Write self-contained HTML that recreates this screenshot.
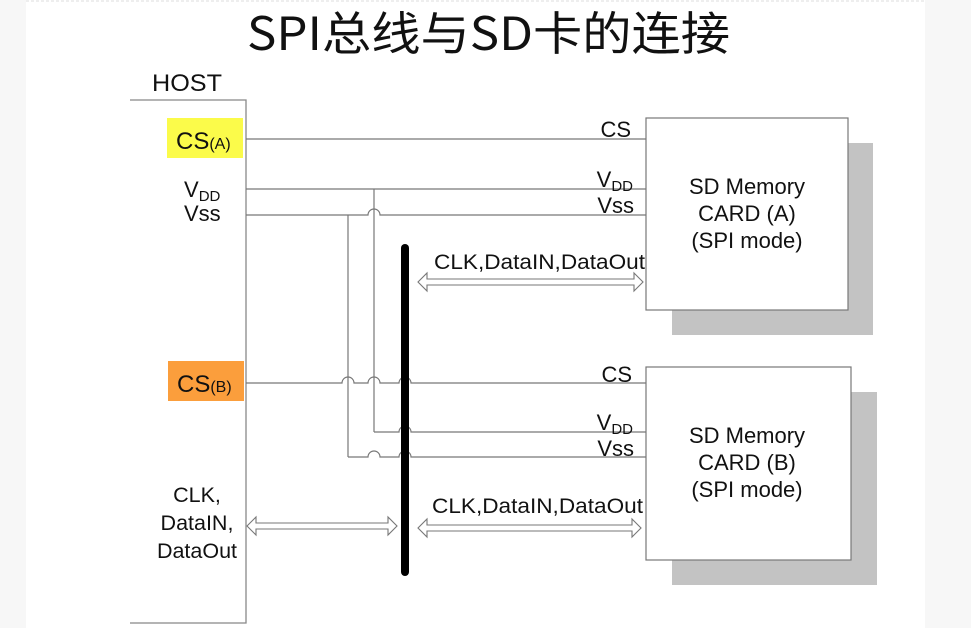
<!DOCTYPE html>
<html><head><meta charset="utf-8"><style>
html,body{margin:0;padding:0;background:#fff}
svg{display:block}
text{font-family:"Liberation Sans",Arial,sans-serif;fill:#111}
</style></head><body>
<svg width="971" height="628" viewBox="0 0 971 628" xmlns="http://www.w3.org/2000/svg">
<rect x="0" y="0" width="971" height="628" fill="#fff"/>
<rect x="0" y="0" width="26" height="628" fill="#f7f7f7"/>
<rect x="925" y="0" width="46" height="628" fill="#f7f7f7"/>
<line x1="26" y1="1" x2="925" y2="1" stroke="#ddd" stroke-dasharray="3,2"/>
<text x="247" y="50" font-size="46" textLength="483" lengthAdjust="spacingAndGlyphs" style="font-family:'Noto Sans CJK SC','WenQuanYi Zen Hei',sans-serif">SPI总线与SD卡的连接</text>

<text x="152" y="91" font-size="24" textLength="70" lengthAdjust="spacingAndGlyphs">HOST</text>
<polyline points="130,100 246,100 246,623 130,623" fill="none" stroke="#888" stroke-width="1.3"/>

<rect x="167" y="118" width="76" height="40" fill="#fbfb4a"/>
<text x="176" y="149" font-size="24">CS<tspan font-size="16">(A)</tspan></text>
<rect x="168" y="361" width="76" height="40" fill="#fb9e3c"/>
<text x="177" y="392" font-size="24">CS<tspan font-size="16">(B)</tspan></text>
<text x="184" y="197" font-size="22">V<tspan font-size="15" dy="4">DD</tspan></text>
<text x="184" y="221" font-size="22">Vss</text>
<text x="197" y="502" font-size="21.5" text-anchor="middle">CLK,</text>
<text x="197" y="530" font-size="21.5" text-anchor="middle">DataIN,</text>
<text x="197" y="558" font-size="21.5" text-anchor="middle">DataOut</text>

<rect x="672" y="143" width="201" height="192" fill="#c3c3c3"/>
<rect x="672" y="392" width="205" height="193" fill="#c3c3c3"/>
<rect x="646" y="118" width="202" height="192" fill="#fff" stroke="#777" stroke-width="1.2"/>
<rect x="646" y="367" width="205" height="193" fill="#fff" stroke="#777" stroke-width="1.2"/>
<text x="747" y="194" font-size="22" text-anchor="middle">SD Memory</text>
<text x="747" y="221" font-size="22" text-anchor="middle">CARD (A)</text>
<text x="747" y="248" font-size="22" text-anchor="middle">(SPI mode)</text>
<text x="747" y="443" font-size="22" text-anchor="middle">SD Memory</text>
<text x="747" y="470" font-size="22" text-anchor="middle">CARD (B)</text>
<text x="747" y="497" font-size="22" text-anchor="middle">(SPI mode)</text>

<g fill="none" stroke="#777" stroke-width="1.2">
<line x1="246" y1="139" x2="646" y2="139"/>
<line x1="246" y1="189" x2="646" y2="189"/>
<path d="M246 215 H368 A6 6 0 0 1 380 215 H646"/>
<line x1="374" y1="189" x2="374" y2="432"/>
<line x1="348" y1="215" x2="348" y2="457"/>
<path d="M246 383 H342 A6 6 0 0 1 354 383 H368 A6 6 0 0 1 380 383 H399 A6 6 0 0 1 411 383 H646"/>
<path d="M374 432 H399 A6 6 0 0 1 411 432 H646"/>
<path d="M348 457 H368 A6 6 0 0 1 380 457 H399 A6 6 0 0 1 411 457 H646"/>
</g>
<line x1="405" y1="248" x2="405" y2="572" stroke="#000" stroke-width="8" stroke-linecap="round"/>

<text x="631" y="137" font-size="22" text-anchor="end">CS</text>
<text x="633" y="187" font-size="22" text-anchor="end">V<tspan font-size="15" dy="4">DD</tspan></text>
<text x="634" y="213" font-size="22" text-anchor="end">Vss</text>
<text x="632" y="382" font-size="22" text-anchor="end">CS</text>
<text x="633" y="430" font-size="22" text-anchor="end">V<tspan font-size="15" dy="4">DD</tspan></text>
<text x="634" y="456" font-size="22" text-anchor="end">Vss</text>
<text x="434" y="269" font-size="21" textLength="211" lengthAdjust="spacingAndGlyphs">CLK,DataIN,DataOut</text>
<text x="432" y="513" font-size="21" textLength="211" lengthAdjust="spacingAndGlyphs">CLK,DataIN,DataOut</text>

<g fill="#fff" stroke="#777" stroke-width="1.1">
<path d="M418 282 L427 273 V279 H634 V273 L643 282 L634 291 V285 H427 V291 Z"/>
<path d="M418 528 L427 519 V525 H632 V519 L641 528 L632 537 V531 H427 V537 Z"/>
<path d="M247 526 L256 517 V523 H388 V517 L397 526 L388 535 V529 H256 V535 Z"/>
</g>
</svg>
</body></html>
